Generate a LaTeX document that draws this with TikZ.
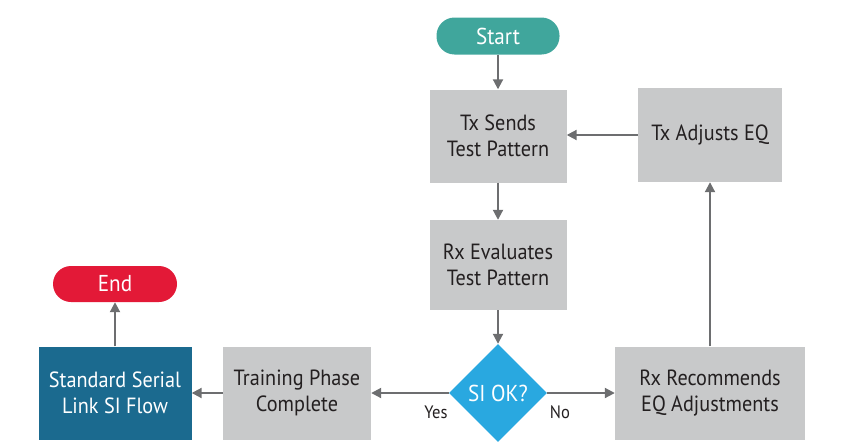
\documentclass[tikz,border=0pt]{standalone}
\usepackage{fontspec}
\setmainfont[FakeStretch=0.92]{PT Sans}
\usetikzlibrary{shapes.geometric,arrows.meta}
\definecolor{startgreen}{HTML}{40A69C}
\definecolor{stepgray}{HTML}{C8C9CA}
\definecolor{okblue}{HTML}{29A8E0}
\definecolor{flowblue}{HTML}{1B6A8F}
\definecolor{endred}{HTML}{E31937}
\definecolor{linegray}{HTML}{6D6E70}
\definecolor{inkblack}{HTML}{231F20}

\begin{document}
\begin{tikzpicture}[x=1pt,y=1pt,
  stepbox/.style={fill=stepgray, minimum height=93pt, inner sep=0pt, align=center, text=inkblack, font=\fontsize{22}{26}\selectfont},
  pill/.style={rounded corners=18pt, minimum width=123pt, minimum height=37pt, inner sep=0pt, text=white, font=\fontsize{23}{26}\selectfont},
  flow/.style={draw=linegray, line width=2pt, -{Triangle[length=10pt,width=10pt]}},
  answer/.style={text=inkblack, font=\fontsize{18}{20}\selectfont}]

\useasboundingbox (0,0) rectangle (848,-447);

\coordinate (A) at (498,-36);
\coordinate (B) at (498,-136);
\coordinate (C) at (710,-135);
\coordinate (D) at (498,-265);
\coordinate (E) at (498,-393);
\coordinate (F) at (710,-393);
\coordinate (G) at (297,-393);
\coordinate (H) at (115,-393);
\coordinate (I) at (115,-284);

\node [pill, fill=startgreen] (start) at (A) {Start};
\node [stepbox, minimum width=137pt] (send) at (B) {Tx Sends\\Test Pattern};
\node [stepbox, minimum width=144pt, minimum height=94pt] (adjust) at (C) {Tx Adjusts EQ};
\node [stepbox, minimum width=137pt, minimum height=90pt] (eval) at (D) {Rx Evaluates\\Test Pattern};
\node [diamond, fill=okblue, minimum width=98pt, minimum height=98pt, inner sep=0pt, text=white, font=\fontsize{23}{26}\selectfont] (ok) at (E) {SI OK?};
\node [stepbox, minimum width=190pt] (recommend) at (F) {Rx Recommends\\EQ Adjustments};
\node [stepbox, minimum width=148pt] (complete) at (G) {Training Phase\\Complete};
\node [stepbox, minimum width=153pt, fill=flowblue, text=white] (serial) at (H) {Standard Serial\\Link SI Flow};
\node [pill, fill=endred, minimum width=124pt, minimum height=36pt] (end) at (I) {End};

\draw [flow] (start) -- (send);
\draw [flow] (send) -- (eval);
\draw [flow] (eval) -- (ok);
\draw [flow] (ok) -- (recommend);
\draw [flow] (recommend) -- (recommend.north |- adjust.south);
\draw [flow] (adjust.west) -- (send.east |- adjust.west);
\draw [flow] (ok) -- (complete);
\draw [flow] (complete) -- (serial);
\draw [flow] (serial) -- (end);

\node [answer] (yes) at (436,-412) {Yes};
\node [answer] (no) at (560,-412) {No};
\end{tikzpicture}
\end{document}
